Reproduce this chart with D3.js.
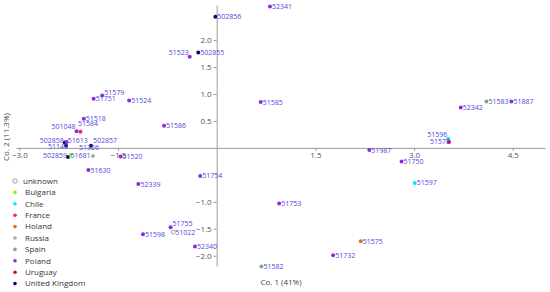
<!DOCTYPE html>
<html><head><meta charset="utf-8">
<script src="https://cdn.jsdelivr.net/npm/d3@7"></script>
<style>
html,body{margin:0;padding:0;background:#fff;}
svg{display:block;}
</style></head>
<body>
<svg id="chart" width="550" height="292"></svg>
<script>
// ---- data ----
const names = ["502856","52341","51523","502855","51579","51751","51524","51585","51518","501048","51584","51586","502858","51613","51149","502857","51326","502859","51681","51520","51630","51754","52339","51755","51022","51598","52340","51582","51732","51575","51753","51597","51750","51987","51596","51578","52342","51583","51887"];
const co1 = [-0.02,0.81,-0.41,-0.28,-1.74,-1.87,-1.33,0.67,-2.02,-2.13,-2.07,-0.80,-2.31,-2.28,-2.29,-1.91,-1.88,-2.26,-2.22,-1.46,-1.95,-0.25,-1.19,-0.70,-0.66,-1.12,-0.33,0.68,1.77,2.19,0.95,3.01,2.81,2.32,3.52,3.53,3.71,4.10,4.48];
const co2 = [2.43,2.62,1.69,1.77,0.97,0.91,0.88,0.85,0.54,0.31,0.30,0.41,0.10,0.11,0.04,0.04,-0.15,-0.17,-0.13,-0.16,-0.41,-0.52,-0.67,-1.47,-1.56,-1.60,-1.83,-2.20,-1.99,-1.73,-1.03,-0.65,-0.25,-0.04,0.17,0.11,0.75,0.86,0.86];
const groups = ["United Kingdom","Poland","Poland","United Kingdom","Poland","Poland","Poland","Poland","Poland","Poland","France","Poland","United Kingdom","Poland","United Kingdom","United Kingdom","Russia","United Kingdom","Bulgaria","Poland","Poland","Poland","Poland","Poland","unknown","Poland","Poland","Spain","Poland","Holand","Poland","Chile","Poland","Poland","Chile","Uruguay","Poland","Spain","Poland"];
const categories = ["unknown","Bulgaria","Chile","France","Holand","Russia","Spain","Poland","Uruguay","United Kingdom"];
const xTicks = [-3.0,-1.5,1.5,3.0,4.5];
const yTicks = [-2.0,-1.5,-1.0,0.5,1.0,1.5,2.0];
const xTitle = "Co. 1 (41%)";
const yTitle = "Co. 2 (11.3%)";

// ---- styles ----
const colors = {"unknown":"none","Bulgaria":"#7cfc00","Chile":"#00e5ff","France":"#ff1a8c","Holand":"#e0701a","Russia":"#a8a8a8","Spain":"#78ad80","Poland":"#8a2be2","Uruguay":"#e8002a","United Kingdom":"#0a0a6e"};
// label nudges: [anchor, dx, dy]
const nudge = {
  "51523":["end",-1,-4.5],
  "51579":["start",2,-3.5],
  "51584":["start",-2.5,-8.5],
  "501048":["end",-1,-4.5],
  "502858":["end",-1,-2],
  "51613":["start",1,-1.5],
  "51149":["end",2,0.5],
  "502857":["start",2,-5],
  "51326":["middle",-4,-8],
  "502859":["end",-1,-2],
  "51681":["start",0,1],
  "51755":["start",2,-4],
  "51596":["end",-1,-4],
  "51578":["end",1,0]
};

const svg = d3.select("#chart");
const xMin = -3.05, xMax = 4.99, yMin = -2.19, yMax = 2.65;
const x = d3.scaleLinear().domain([xMin, xMax]).range([16, 545]);
const y = d3.scaleLinear().domain([yMin, yMax]).range([266, 5]);

const axisColor = "#9a9a9a";
const tickFont = "Open Sans, DejaVu Sans, sans-serif";

// x axis
const gx = svg.append("g").attr("transform", `translate(0,${y(0)})`)
  .call(d3.axisBottom(x).tickValues(xTicks).tickSize(3).tickSizeOuter(0).tickPadding(1).tickFormat(d3.format(".1f")));
gx.select(".domain").attr("stroke", axisColor);
gx.selectAll(".tick line").attr("stroke", axisColor);
gx.selectAll(".tick text").attr("fill", "#555").style("font-family", tickFont).style("font-size", "8px");

// y axis
const gy = svg.append("g").attr("transform", `translate(${x(0)},0)`)
  .call(d3.axisLeft(y).tickValues(yTicks).tickSize(3).tickSizeOuter(0).tickPadding(2).tickFormat(d3.format(".1f")));
gy.select(".domain").attr("stroke", axisColor);
gy.selectAll(".tick line").attr("stroke", axisColor);
gy.selectAll(".tick text").attr("fill", "#555").style("font-family", tickFont).style("font-size", "8px");

// axis titles
svg.append("text").attr("x", 281).attr("y", 285).attr("text-anchor", "middle")
  .attr("fill", "#444").style("font-family", tickFont).style("font-size", "8px").text(xTitle);
svg.append("text").attr("transform", "translate(9,137) rotate(-90)").attr("text-anchor", "middle")
  .attr("fill", "#444").style("font-family", tickFont).style("font-size", "8px").text(yTitle);

// points
const pts = names.map((n, i) => ({name: n, cx: co1[i], cy: co2[i], g: groups[i]}));
svg.append("g").selectAll("circle").data(pts).join("circle")
  .attr("cx", d => x(d.cx)).attr("cy", d => y(d.cy)).attr("r", 2)
  .attr("fill", d => colors[d.g])
  .attr("stroke", d => d.g === "unknown" ? "#888" : "none")
  .attr("stroke-width", 0.8);

// labels
svg.append("g").selectAll("text").data(pts).join("text")
  .attr("x", d => x(d.cx) + (nudge[d.name] ? nudge[d.name][1] : 2))
  .attr("y", d => y(d.cy) + 2.5 + (nudge[d.name] ? nudge[d.name][2] : 0))
  .attr("text-anchor", d => nudge[d.name] ? nudge[d.name][0] : "start")
  .attr("fill", "#5048dc")
  .style("font-family", tickFont).style("font-size", "7px")
  .text(d => d.name);

// legend
const lg = svg.append("g");
categories.forEach((c, i) => {
  const yy = 181 + i * 11.4;
  if (c === "unknown") {
    lg.append("circle").attr("cx", 15).attr("cy", yy).attr("r", 2.2).attr("fill", "none").attr("stroke", "#888").attr("stroke-width", 0.8);
  } else {
    lg.append("circle").attr("cx", 15).attr("cy", yy).attr("r", 1.8).attr("fill", colors[c]);
  }
  lg.append("text").attr("x", c === "unknown" ? 23 : 25).attr("y", yy + 2.8)
    .attr("fill", "#333").style("font-family", tickFont).style("font-size", "8px").text(c);
});
</script>
</body></html>
